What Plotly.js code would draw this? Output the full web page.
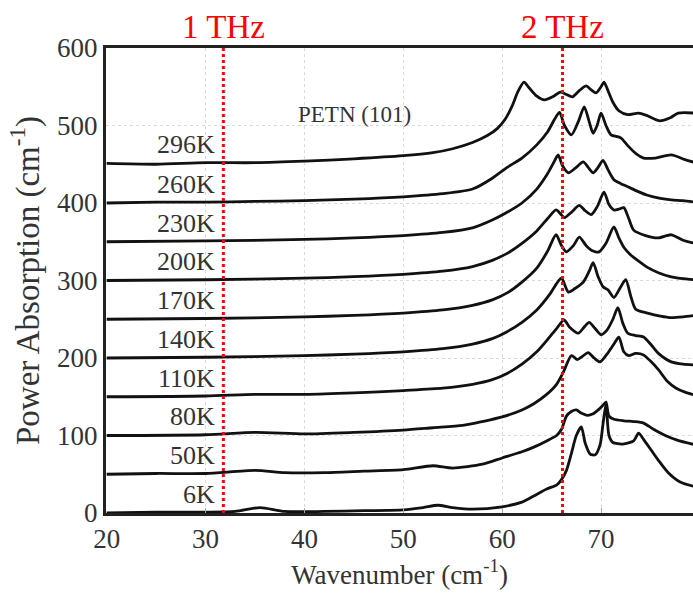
<!DOCTYPE html>
<html><head><meta charset="utf-8">
<script src="https://cdn.plot.ly/plotly-3.0.1.min.js"></script>
<style>html,body{margin:0;padding:0;background:#fff}#chart{width:693px;height:599px}</style>
</head><body><div id="chart"></div>
<script>
// ---- data (wavenumber in cm^-1, absorption offset as plotted) ----
const tempLabels = ["296K","260K","230K","200K","170K","140K","110K","80K","50K","6K"];

const x296 = [20,25,30,35,40,45,50,53,55,57,58.5,59.5,60.3,61,61.6,62.2,62.7,63.4,64.3,65.1,65.9,66.5,67.1,67.8,68.5,69,69.5,70,70.3,70.7,71.2,71.8,72.7,73.8,74.6,75.9,77,77.8,79.5];
const v296 = [451,450,452,452,454,457,461,465,470,478,487,496,508,525,544,556,549,539,533,537,543,540,537,545,551,546,542,550,556,545,530,519,514,516,513,506,510,516,516];

const x260 = [20,25,30,35,40,45,50,54,57,59,60.5,62,63.5,64.6,65.3,65.8,66.3,67,67.7,68.3,68.8,69.2,69.6,70,70.5,71,72,72.7,73.5,74.3,75.5,77.1,78.5,79.5];
const v260 = [400,401,401,402,403,405,408,412,418,432,446,458,475,492,508,517,500,488,505,524,505,490,500,516,500,488,484,474,464,458,458,462,456,452];

const x230 = [20,30,40,45,50,54,57,59,60.5,62,63.5,64.6,65.2,65.66,66.1,66.7,67.4,68.2,68.7,69.2,69.7,70.2,70.7,71.3,72,72.7,73.7,74.7,76,77.1,78.3,79.5];
const v230 = [350,351,353,355,358,362,368,378,388,400,418,438,452,462,448,439,445,453,446,439,446,455,443,430,425,421,415,410,406,404,403,401];

const x200 = [20,30,40,45,50,54,57,59,60.5,62,63.5,64.6,65.45,65.9,66.3,67,67.8,68.4,69,69.6,70.3,70.8,71.3,71.8,72.3,72.8,73.3,74.5,75.8,77.1,78.3,79.5];
const v200 = [300,301,303,305,308,312,318,326,335,348,364,380,391,386,381,388,397,390,385,395,414,398,391,392,394,380,365,358,355,359,352,348];

const x170 = [20,30,40,45,50,54,57,59,60.5,62,63.5,64.6,65.45,66,66.5,67.2,67.8,68.5,69.2,69.8,70.5,71.3,71.8,72.3,73,73.7,74.7,75.8,77,77.8,79.5];
const v170 = [250,251,253,255,258,262,268,275,284,298,316,338,359,345,337,345,356,345,338,337,348,369,355,343,333,326,317,310,305,303,301];

const x140 = [20,30,40,45,50,54,57,59,60.5,62,63.5,64.8,65.5,66,66.7,67.4,68.2,68.8,69.2,69.7,70.2,70.7,71.3,72,72.5,73,73.5,74.7,76,77.1,78.3,79.5];
const v140 = [200,201,203,205,208,212,218,225,234,246,262,282,296,303,285,290,298,312,323,305,292,288,278,292,301,280,263,258,254,252,253,255];

const x110 = [20,30,35,40,45,50,54,57,59,60.5,62,63.5,64.6,65.5,66.26,66.8,67.7,68.3,68.8,69.4,70,70.6,71.2,71.7,72.2,72.7,73.5,74.3,75,75.8,77.1,78.3,79.5];
const v110 = [150,151,153,153,155,158,161,166,172,180,192,208,224,238,249,240,232,240,246,238,230,236,250,265,245,232,229,227,218,206,195,192,191];

const x80 = [20,30,35,40,45,50,53,56,58,60,62,63.2,64.5,65.5,66.2,67,67.6,68.1,68.7,69.3,69.9,70.6,71.3,71.8,72.3,72.8,73.5,74.3,75,75.8,76.7,77.6,78.5,79.5];
const v80 = [100,101,104,102,104,107,110,113,118,124,133,141,153,166,182,203,198,202,207,200,195,205,218,227,208,203,206,204,196,185,170,161,156,152];

const x50 = [20,25,30,35,38,42,46,50,53,55,58,60,62,63.2,64.5,65.5,66,66.5,67,67.5,68,68.6,69.2,69.8,70.2,70.5,70.8,71.3,72.3,73.3,74.3,75.3,76.5,77.7,79.5];
const v50 = [50,51,51,55,52,52,54,56,61,58,63,71,79,85,93,100,108,125,131,133,129,126,128,134,139,143,125,121,119,118,116,108,100,94,88];

const x6 = [20,25,30,33,35.5,38,42,46,50,52,53.5,55,57,60,62,63.2,64.5,65.5,66,66.5,67,67.5,68,68.4,68.9,69.4,69.9,70.2,70.5,70.8,71.2,72.2,73.3,73.8,74.3,75.8,76.8,78,79.5];
const v6 = [0,1,1,2,7,2,2,3,4,7,10,7,5,8,14,22,31,36,43,55,77,100,111,90,76,75,88,115,140,100,91,89,93,103,95,68,52,40,34];

const xs = [x296,x260,x230,x200,x170,x140,x110,x80,x50,x6];
const vs = [v296,v260,v230,v200,v170,v140,v110,v80,v50,v6];

const thzLabels = ["1 THz","2 THz"];
const thzPositions = [31.8, 66.1];
const sampleLabel = "PETN (101)";

// ---- build ----
const traces = xs.map((x,i)=>({
  x:x, y:vs[i], type:'scatter', mode:'lines', name:tempLabels[i],
  line:{color:'#111', width:2.8, shape:'spline', smoothing:0.7},
  hoverinfo:'x+y'
}));

const serif = "Liberation Serif, Times New Roman, serif";
const annotations = tempLabels.map((t,i)=>({
  x:31.15, y:vs[i][0]+24, xref:'x', yref:'y', text:t, showarrow:false,
  xanchor:'right', yanchor:'middle', font:{family:serif, size:26, color:'#333'}
}));
annotations.push({x:45.05, y:514, xref:'x', yref:'y', text:sampleLabel, showarrow:false,
  xanchor:'center', yanchor:'middle', font:{family:serif, size:23, color:'#333'}});
thzLabels.forEach((t,i)=>annotations.push({x:thzPositions[i], y:1.045, xref:'x', yref:'paper',
  text:t, showarrow:false, xanchor:'center', yanchor:'middle', font:{family:serif, size:33, color:'#ff0000'}}));

const shapes = thzPositions.map(p=>({type:'line', xref:'x', yref:'paper', x0:p, x1:p, y0:0, y1:1,
  line:{color:'#ff0000', width:3, dash:'dot'}}));

const layout = {
  width:693, height:599,
  margin:{l:106, r:0, t:48, b:86},
  paper_bgcolor:'#fff', plot_bgcolor:'#fff',
  showlegend:false,
  xaxis:{range:[19.93,79.3], tickvals:[20,30,40,50,60,70], ticktext:['20','30','40','50','60','70'],
    showgrid:true, gridcolor:'#dadada', griddash:'dot', gridwidth:1,
    showline:true, linecolor:'#222', linewidth:3, mirror:true,
    ticks:'inside', ticklen:5, tickcolor:'#aaa',
    zeroline:false, tickfont:{family:serif, size:27, color:'#333'},
    title:{text:'Wavenumber (cm<sup>-1</sup>)', font:{family:serif, size:27, color:'#333'}, standoff:12}},
  yaxis:{range:[0,600], tickvals:[0,100,200,300,400,500,600],
    showgrid:true, gridcolor:'#dadada', griddash:'dot', gridwidth:1,
    showline:true, linecolor:'#222', linewidth:3, mirror:false,
    ticks:'', zeroline:false, tickfont:{family:serif, size:27, color:'#333'},
    title:{text:'Power Absorption (cm<sup>-1</sup>)', font:{family:serif, size:33, color:'#333'}, standoff:8}},
  annotations:annotations, shapes:shapes
};
Plotly.newPlot('chart', traces, layout, {displayModeBar:false, staticPlot:true});
</script></body></html>
